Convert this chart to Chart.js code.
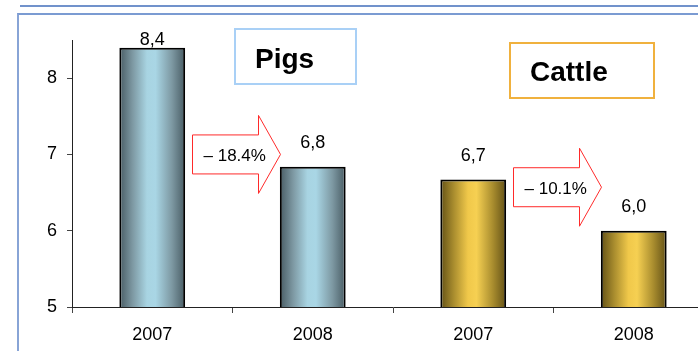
<!DOCTYPE html>
<html>
<head>
<meta charset="utf-8">
<script src="https://cdn.jsdelivr.net/npm/chart.js@4/dist/chart.umd.min.js"></script>
<style>
  html, body { margin: 0; padding: 0; background: #fff; overflow: hidden; }
  #wrap { position: absolute; left: 0; top: 0; width: 730px; height: 351px; }
  .line-top { position: absolute; left: 20px; top: 5px; width: 690px; height: 2px; background: #7192cb; }
  .frame { position: absolute; left: 17px; top: 13px; width: 700px; height: 360px;
           border-left: 2px solid #88a4d6; border-top: 2px solid #7b9bd2; }
</style>
</head>
<body>
<div class="line-top"></div>
<div class="frame"></div>
<div id="wrap"><canvas id="chart" width="730" height="351"></canvas></div>
<script>
// chart data
const years = ['2007', '2008', '2007', '2008'];
const tonnes = [8.4, 6.84, 6.67, 6.0];
const groups = ['pigs', 'pigs', 'cattle', 'cattle'];
const changeLabels = ['\u2013 18.4%', '\u2013 10.1%'];
const yTicks = [5, 6, 7, 8];

const FONT = "Arial, 'Liberation Sans', sans-serif";

const palette = {
  pigs: ['#485c64', '#7d98a2', '#a8d4e2', '#a9d6e5', '#7d98a2', '#485c64'],
  cattle: ['#635116', '#a88c2e', '#f0c84a', '#f6d052', '#a88c2e', '#635116']
};

function barFill(ctx) {
  const chart = ctx.chart;
  const i = ctx.dataIndex;
  const cols = palette[groups[i]];
  if (!chart.chartArea || !chart.scales.x) return cols[2];
  const xs = chart.scales.x;
  const half = (xs.width / years.length) * 0.41 / 2;
  const cx = xs.getPixelForValue(i);
  const g = chart.ctx.createLinearGradient(cx - half, 0, cx + half, 0);
  g.addColorStop(0, cols[0]);
  g.addColorStop(0.2, cols[1]);
  g.addColorStop(0.42, cols[2]);
  g.addColorStop(0.55, cols[3]);
  g.addColorStop(0.8, cols[4]);
  g.addColorStop(1, cols[5]);
  return g;
}

// value labels like "8,4" above bars
const valueLabels = {
  id: 'valueLabels',
  afterDatasetsDraw(chart) {
    const ctx = chart.ctx;
    const meta = chart.getDatasetMeta(0);
    ctx.save();
    ctx.font = '18px ' + FONT;
    ctx.fillStyle = '#000';
    ctx.textAlign = 'center';
    ctx.textBaseline = 'middle';
    meta.data.forEach((bar, i) => {
      const y = Math.max(bar.y - 24, 40);
      ctx.fillText(tonnes[i].toFixed(1).replace('.', ','), bar.x, y);
    });
    ctx.restore();
  }
};

// outlined red arrows between the years + the titled boxes
const arrowSpots = [{ between: [0, 1], value: 7.0 }, { between: [2, 3], value: 6.57 }];
const titleBoxes = [
  { text: 'Pigs', x: 235, y: 29, w: 121, h: 55, color: '#a9d0f6', tx: 255, ty: 68 },
  { text: 'Cattle', x: 510, y: 43, w: 144, h: 55, color: '#f0b13e', tx: 530, ty: 81 }
];

const annotations = {
  id: 'annotations',
  afterDraw(chart) {
    const ctx = chart.ctx;
    const xs = chart.scales.x, ys = chart.scales.y;
    ctx.save();
    arrowSpots.forEach((a, k) => {
      const cx = (xs.getPixelForValue(a.between[0]) + xs.getPixelForValue(a.between[1])) / 2 + 4;
      const cy = ys.getPixelForValue(a.value);
      const w = 88, bh = 19.5, hh = 39, hl = 22;
      const x0 = cx - w / 2, xh = cx + w / 2 - hl, xt = cx + w / 2;
      ctx.beginPath();
      ctx.moveTo(x0, cy - bh);
      ctx.lineTo(xh, cy - bh);
      ctx.lineTo(xh, cy - hh);
      ctx.lineTo(xt, cy);
      ctx.lineTo(xh, cy + hh);
      ctx.lineTo(xh, cy + bh);
      ctx.lineTo(x0, cy + bh);
      ctx.closePath();
      ctx.fillStyle = '#fff';
      ctx.fill();
      ctx.strokeStyle = '#ff2a2a';
      ctx.lineWidth = 1;
      ctx.stroke();
      ctx.fillStyle = '#000';
      ctx.font = '17px ' + FONT;
      ctx.textAlign = 'left';
      ctx.textBaseline = 'middle';
      ctx.fillText(changeLabels[k], x0 + 11, cy + 2);
    });
    titleBoxes.forEach(b => {
      ctx.strokeStyle = b.color;
      ctx.lineWidth = 2;
      ctx.strokeRect(b.x, b.y, b.w, b.h);
      ctx.fillStyle = '#000';
      ctx.font = 'bold 28px ' + FONT;
      ctx.textAlign = 'left';
      ctx.textBaseline = 'alphabetic';
      ctx.fillText(b.text, b.tx, b.ty);
    });
    ctx.restore();
  }
};

new Chart(document.getElementById('chart'), {
  type: 'bar',
  data: {
    labels: years,
    datasets: [{
      data: tonnes,
      backgroundColor: barFill,
      borderColor: '#000',
      borderWidth: 2,
      borderSkipped: 'bottom',
      barPercentage: 1,
      categoryPercentage: 0.41
    }]
  },
  options: {
    responsive: false,
    animation: false,
    layout: { padding: { left: 0, right: 16, top: 40, bottom: 0 } },
    plugins: { legend: { display: false }, tooltip: { enabled: false } },
    scales: {
      x: {
        offset: true,
        grid: { offset: true, drawOnChartArea: false, tickLength: 6, color: '#444' },
        border: { color: '#222', width: 1 },
        ticks: { color: '#000', font: { family: FONT, size: 18 }, padding: 11 },
        afterFit(s) { s.height = 44; }
      },
      y: {
        min: 5,
        max: 8.5,
        grid: { drawOnChartArea: false, tickLength: 5, color: '#444' },
        border: { color: '#222', width: 1 },
        ticks: { stepSize: 1, color: '#000', font: { family: FONT, size: 18 }, padding: 10 },
        afterBuildTicks(s) { s.ticks = yTicks.map(v => ({ value: v })); },
        afterFit(s) { s.width = 72; }
      }
    }
  },
  plugins: [valueLabels, annotations]
});
</script>
</body>
</html>
